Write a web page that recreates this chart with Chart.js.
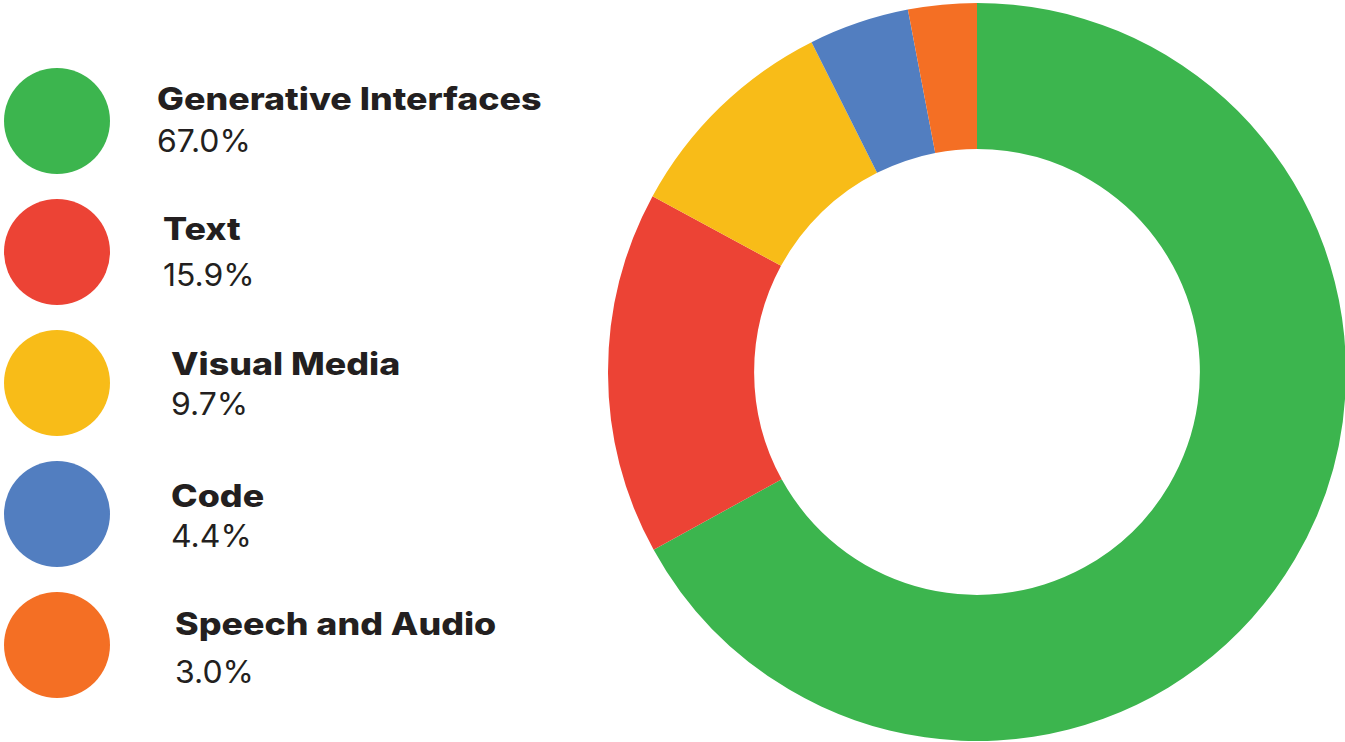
<!DOCTYPE html>
<html>
<head>
<meta charset="utf-8">
<script src="https://cdn.jsdelivr.net/npm/chart.js@4.4.1/dist/chart.umd.min.js"></script>
<style>
  html, body { margin: 0; padding: 0; background: #fff; }
  body { width: 1345px; height: 742px; position: relative; overflow: hidden; font-family: "Inter", "DejaVu Sans", sans-serif; color: #231f20; }
  #grafica { position: absolute; left: 608px; top: 3px; }
  .dot { position: absolute; left: 4px; width: 106px; height: 106px; border-radius: 50%; }
  .nombre { position: absolute; font-size: 31px; line-height: 31px; font-weight: 800; white-space: nowrap; transform: scaleX(1.155); transform-origin: left center; }
  .valor { position: absolute; font-size: 31px; line-height: 31px; font-weight: 400; white-space: nowrap; transform: scaleX(1.03); transform-origin: left center; }
</style>
</head>
<body>
<div id="leyenda"></div>
<canvas id="grafica" width="738" height="738"></canvas>
<script>
const categorias = ["Generative Interfaces", "Text", "Visual Media", "Code", "Speech and Audio"];
const porcentajes = [67.0, 15.9, 9.7, 4.4, 3.0];
const colores = ["#3cb54e", "#ec4335", "#f8bc18", "#527ec0", "#f46f24"];

// posiciones de la leyenda (centro del punto, x del texto, lineas base)
const dotCentroY = [120.5, 251.5, 382.5, 513.5, 644.5];
const textoX = [157, 163, 171, 171, 175];
const baseNombre = [110, 240, 375, 507, 635];
const baseValor = [152, 286, 415, 547, 683];

function leyenda() {
  const cont = document.getElementById("leyenda");
  for (let i = 0; i < categorias.length; i++) {
    const dot = document.createElement("div");
    dot.className = "dot";
    dot.style.top = dotCentroY[i] - 53 + "px";
    dot.style.background = colores[i];
    cont.appendChild(dot);

    const nombre = document.createElement("div");
    nombre.className = "nombre";
    nombre.textContent = categorias[i];
    nombre.style.left = textoX[i] + "px";
    nombre.style.top = baseNombre[i] - 27 + "px";
    cont.appendChild(nombre);

    const valor = document.createElement("div");
    valor.className = "valor";
    valor.textContent = porcentajes[i].toFixed(1) + "%";
    valor.style.left = textoX[i] + "px";
    valor.style.top = baseValor[i] - 27 + "px";
    cont.appendChild(valor);
  }
}

function grafica() {
  const cxt = document.getElementById("grafica");
  const myChart = new Chart(cxt, {
    type: "doughnut",
    data: {
      labels: categorias,
      datasets: [
        {
          data: porcentajes,
          backgroundColor: colores,
          borderWidth: 0,
        },
      ],
    },
    options: {
      responsive: false,
      animation: false,
      cutout: "60.4%",
      layout: { padding: 0 },
      plugins: {
        legend: { display: false },
        tooltip: { enabled: false },
      },
    },
  });
}

leyenda();
grafica();
</script>
</body>
</html>
